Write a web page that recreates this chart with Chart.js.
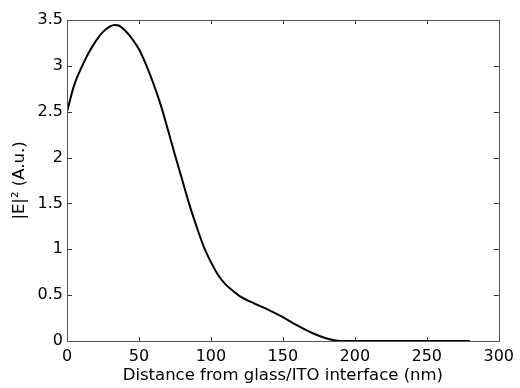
<!DOCTYPE html>
<html>
<head>
<meta charset="utf-8">
<script src="https://cdn.jsdelivr.net/npm/chart.js@4/dist/chart.umd.min.js"></script>
<style>
  html, body { margin: 0; padding: 0; background: #fff; }
  #wrap { width: 520px; height: 388px; }
</style>
</head>
<body>
<div id="wrap"><canvas id="c" width="520" height="388"></canvas></div>
<script>
const distance = [0, 5, 10, 15, 20, 25, 30, 33, 36, 40, 45, 50, 55, 60, 65, 70, 75, 80, 85, 90, 95, 100, 105, 110, 115, 120, 130, 140, 150, 160, 170, 180, 185, 190, 200, 220, 240, 260, 280];
const fieldIntensity = [2.50, 2.79, 2.98, 3.14, 3.27, 3.37, 3.43, 3.446, 3.44, 3.39, 3.30, 3.18, 3.01, 2.81, 2.58, 2.31, 2.03, 1.76, 1.49, 1.25, 1.03, 0.86, 0.72, 0.62, 0.55, 0.49, 0.41, 0.34, 0.26, 0.17, 0.09, 0.03, 0.01, 0.0, 0.0, 0.0, 0.0, 0.0, 0.0];
const xTicks = [0, 50, 100, 150, 200, 250, 300];
const yTicks = [0, 0.5, 1, 1.5, 2, 2.5, 3, 3.5];
const xTitle = 'Distance from glass/ITO interface (nm)';
const yTitle = '|E|\u00B2 (A.u.)';

const boxPlugin = {
  id: 'box',
  afterDraw(chart) {
    const { ctx, chartArea: a, scales } = chart;
    ctx.save();
    ctx.lineWidth = 1;
    ctx.strokeStyle = '#333';
    ctx.beginPath();
    xTicks.forEach(v => {
      const px = Math.round(scales.x.getPixelForValue(v)) + 0.5;
      ctx.moveTo(px, a.bottom); ctx.lineTo(px, a.bottom - 4);
      ctx.moveTo(px, a.top); ctx.lineTo(px, a.top + 4);
    });
    yTicks.forEach(v => {
      const py = Math.round(scales.y.getPixelForValue(v)) + 0.5;
      ctx.moveTo(a.left, py); ctx.lineTo(a.left + 5, py);
      ctx.moveTo(a.right, py); ctx.lineTo(a.right - 5, py);
    });
    ctx.stroke();
    ctx.strokeStyle = '#555';
    ctx.strokeRect(Math.round(a.left) + 0.5, Math.round(a.top) + 0.5, Math.round(a.right - a.left), Math.round(a.bottom - a.top));
    ctx.restore();
  }
};

new Chart(document.getElementById('c'), {
  type: 'line',
  data: {
    datasets: [{
      data: distance.map((d, i) => ({ x: d, y: fieldIntensity[i] })),
      borderColor: '#000',
      borderWidth: 2,
      pointRadius: 0,
      fill: false,
      cubicInterpolationMode: 'monotone'
    }]
  },
  options: {
    responsive: false,
    animation: false,
    layout: { padding: { top: 20, right: 17, left: 0, bottom: 0 } },
    plugins: { legend: { display: false }, tooltip: { enabled: false } },
    scales: {
      x: {
        type: 'linear', min: 0, max: 300,
        afterBuildTicks(s) { s.ticks = xTicks.map(v => ({ value: v })); },
        afterFit(s) { s.height = 47; },
        grid: { display: false, drawTicks: false },
        border: { display: false },
        ticks: { color: '#000', padding: 6, maxRotation: 0, callback: v => String(v), font: { family: 'DejaVu Sans', size: 16 } },
        title: { display: true, text: xTitle, color: '#000', padding: { top: 0, bottom: 2 }, font: { family: 'DejaVu Sans', size: 16.5 } }
      },
      y: {
        type: 'linear', min: 0, max: 3.5,
        afterBuildTicks(s) { s.ticks = yTicks.map(v => ({ value: v })); },
        afterFit(s) { s.width = 67; },
        grid: { display: false, drawTicks: false },
        border: { display: false },
        ticks: { color: '#000', padding: 4, callback: v => String(v), font: { family: 'DejaVu Sans', size: 16 } },
        title: { display: true, text: yTitle, color: '#000', padding: { top: 10, bottom: 0 }, font: { family: 'DejaVu Sans', size: 16.5 } }
      }
    }
  },
  plugins: [boxPlugin]
});
</script>
</body>
</html>
